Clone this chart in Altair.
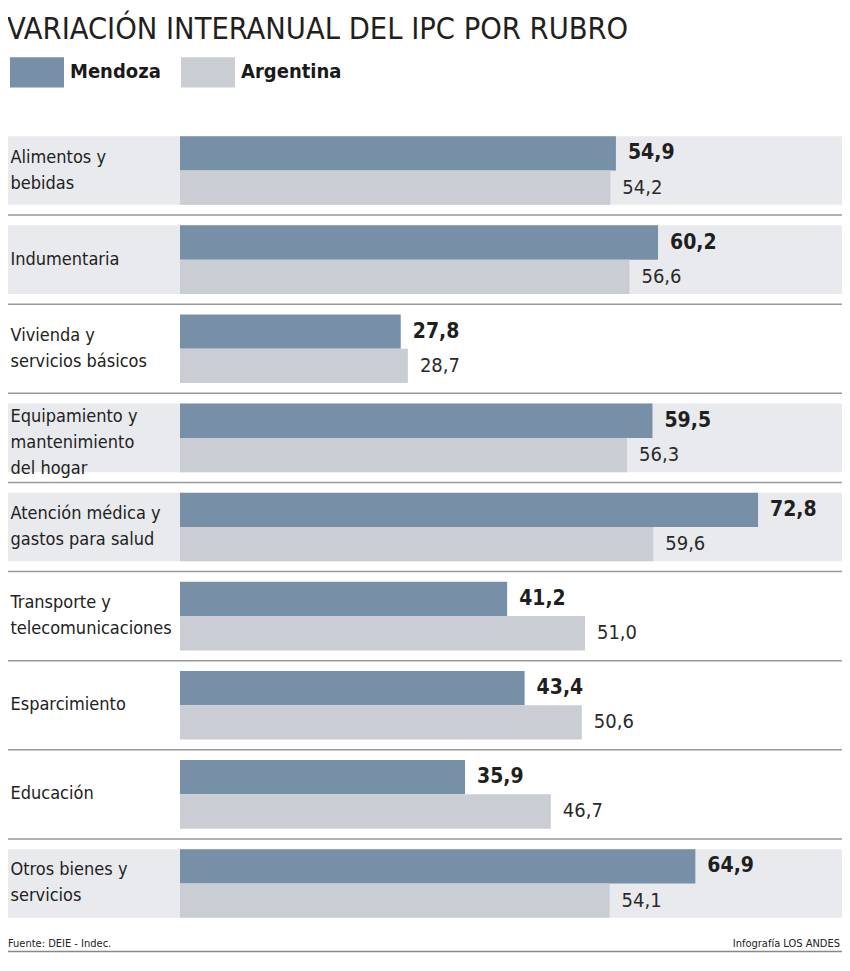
import altair as alt
import pandas as pd

# ---- data ----
categories = [
    "Alimentos y|bebidas",
    "Indumentaria",
    "Vivienda y|servicios básicos",
    "Equipamiento y|mantenimiento|del hogar",
    "Atención médica y|gastos para salud",
    "Transporte y|telecomunicaciones",
    "Esparcimiento",
    "Educación",
    "Otros bienes y|servicios",
]
mendoza = [54.9, 60.2, 27.8, 59.5, 72.8, 41.2, 43.4, 35.9, 64.9]
argentina = [54.2, 56.6, 28.7, 56.3, 59.6, 51.0, 50.6, 46.7, 54.1]
series = ["Mendoza", "Argentina"]
colors = ["#7790a7", "#cbcdd4"]
title_text = ["VARIACIÓN INTERANUAL DEL IPC POR RUBRO"]
source_text = ["Fuente: DEIE - Indec."]
credit_text = ["Infografía LOS ANDES"]

X_MIN, X_MAX = -21.66, 83.37
W, H = 834, 802
TOP, BOTTOM = 118, 25

FONT = "DejaVu Sans Condensed, Liberation Sans Narrow, sans-serif"


def fmt(v):
    return f"{v:.1f}".replace(".", ",")


rows = []
for c, m, a in zip(categories, mendoza, argentina):
    rows.append({"cat": c, "serie": "Mendoza", "value": m, "lab": fmt(m)})
    rows.append({"cat": c, "serie": "Argentina", "value": a, "lab": fmt(a)})
long_df = pd.DataFrame(rows)

band_df = pd.DataFrame({
    "cat": categories,
    "hi": [m > a for m, a in zip(mendoza, argentina)],
    "xmin": X_MIN,
    "xmax": X_MAX,
    "last": [i == len(categories) - 1 for i in range(len(categories))],
})

xscale = alt.Scale(domain=[X_MIN, X_MAX], nice=False, zero=False)
yscale = alt.Scale(paddingInner=0.23, paddingOuter=0.115)
yaxis = alt.Axis(
    orient="left", domain=False, ticks=False, grid=False, title=None,
    labelAlign="left", labelPadding=-2, labelBaseline="middle",
    labelFont=FONT, labelFontSize=18, labelColor="#222222",
    labelLineHeight=26, labelExpr="split(datum.label, '|')",
    labelOffset={
        "condition": [
            {"test": "length(split(datum.label, '|')) == 3", "value": -21},
            {"test": "length(split(datum.label, '|')) == 2", "value": -13},
        ],
        "value": 0,
    },
    labelLimit=0, labelOverlap=False, zindex=2,
)


def Y(**kw):
    return alt.Y("cat:N", sort=categories, scale=yscale, axis=yaxis, **kw)


yoff = alt.YOffset("serie:N", sort=series,
                   scale=alt.Scale(paddingInner=0, paddingOuter=0))

bg = alt.Chart(band_df).transform_filter("datum.hi").mark_bar(
    color="#e9eaed", cornerRadius=0
).encode(
    x=alt.X("xmin:Q", scale=xscale, axis=None),
    x2="xmax:Q",
    y=Y(),
)

seps = alt.Chart(band_df).transform_filter("!datum.last").mark_rule(
    color="#9a9a9a", strokeWidth=1.5, yOffset=10.25
).encode(
    x=alt.X("xmin:Q", scale=xscale, axis=None),
    x2="xmax:Q",
    y=Y(bandPosition=1),
)

bars = alt.Chart(long_df).mark_bar().encode(
    x=alt.X("value:Q", scale=xscale, axis=None),
    y=Y(),
    yOffset=yoff,
    color=alt.Color(
        "serie:N", sort=series,
        scale=alt.Scale(domain=series, range=colors),
        legend=alt.Legend(
            title=None, orient="none", legendX=2, legendY=-81,
            direction="horizontal",
            symbolType="M-1,-0.56H1V0.56H-1Z", symbolSize=2916,
            symbolStrokeWidth=0, symbolOpacity=1,
            labelFont=FONT, labelFontSize=20, labelFontWeight="bold",
            labelColor="#1a1a1a", labelOffset=6, columnPadding=20,
            padding=0, offset=0,
        ),
    ),
)

txt_m = alt.Chart(long_df).transform_filter("datum.serie == 'Mendoza'").mark_text(
    align="left", baseline="middle", dx=12, font=FONT, fontSize=21,
    fontWeight="bold", color="#1f1f1f"
).encode(
    x=alt.X("value:Q", scale=xscale, axis=None),
    y=Y(), yOffset=yoff, text="lab:N",
)

txt_a = alt.Chart(long_df).transform_filter("datum.serie == 'Argentina'").mark_text(
    align="left", baseline="middle", dx=12, font=FONT, fontSize=20,
    color="#2a2a2a"
).encode(
    x=alt.X("value:Q", scale=xscale, axis=None),
    y=Y(), yOffset=yoff, text="lab:N",
)

title = alt.Chart(pd.DataFrame({"t": title_text})).mark_text(
    align="left", baseline="alphabetic", font=FONT, fontSize=30.5,
    color="#231f20"
).encode(text="t:N", x=alt.value(-1), y=alt.value(-87))

footer_l = alt.Chart(pd.DataFrame({"t": source_text})).mark_text(
    align="left", baseline="alphabetic", font=FONT, fontSize=11, color="#222222"
).encode(text="t:N", x=alt.value(0), y=alt.value(H + 19))

footer_r = alt.Chart(pd.DataFrame({"t": credit_text})).mark_text(
    align="right", baseline="alphabetic", font=FONT, fontSize=11, color="#222222"
).encode(text="t:N", x=alt.value(W - 2), y=alt.value(H + 19))

bottom_line = alt.Chart(pd.DataFrame({"t": source_text})).mark_rule(
    color="#888888", strokeWidth=1.5
).encode(x=alt.value(0), x2=alt.value(W), y=alt.value(H + 23.5))

chart = alt.layer(
    bg, seps, bars, txt_m, txt_a, title, footer_l, footer_r, bottom_line
).properties(
    width=W, height=H,
    padding={"top": TOP, "left": 0, "right": 0, "bottom": BOTTOM},
    autosize=alt.AutoSizeParams(type="none"),
).configure(
    background="white",
    view=alt.ViewConfig(strokeWidth=0),
)

chart.save("out.html", embed_options={"renderer": "svg", "actions": False})
